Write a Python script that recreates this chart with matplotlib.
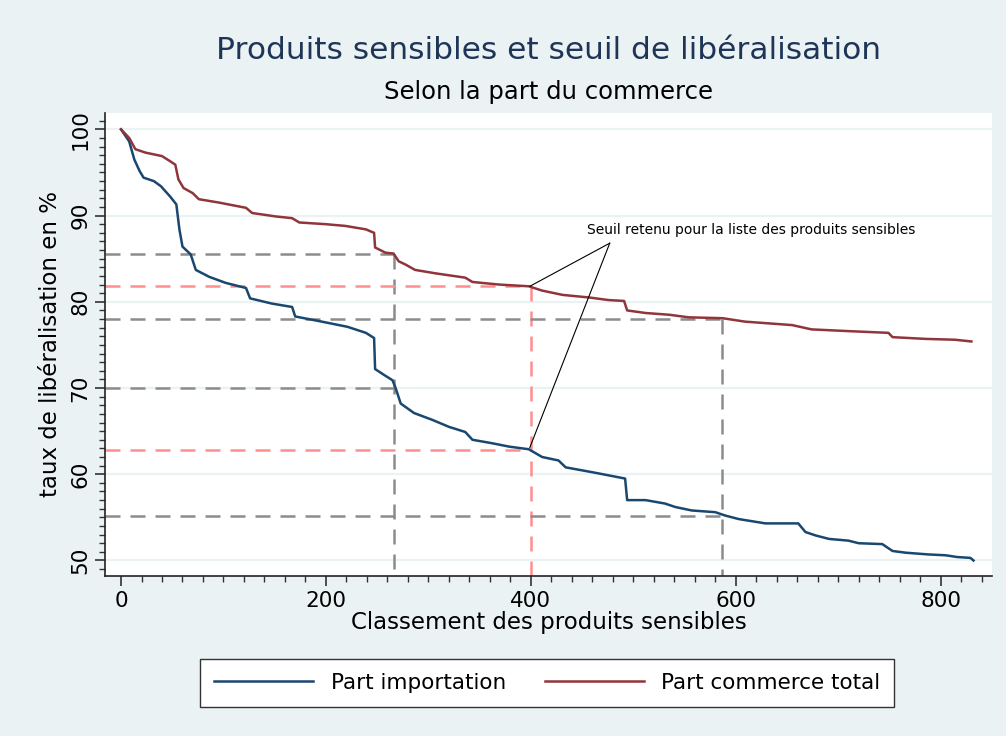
import matplotlib
matplotlib.use("Agg")
import matplotlib.pyplot as plt
from matplotlib.ticker import MultipleLocator

# rang / taux de libéralisation
rank_imp = [0, 8, 13, 18, 22, 32, 39, 48, 54, 57, 60, 68, 73, 86, 102, 122, 126, 147, 167, 170,
            196, 221, 239, 247, 248, 257, 265, 268, 273, 286, 304, 320, 336, 343, 362, 379, 398,
            411, 427, 434, 457, 466, 492, 494, 512, 531, 541, 557, 580, 590, 603, 629, 661, 668,
            678, 691, 710, 720, 743, 753, 766, 788, 805, 816, 829, 832]
val_imp = [100, 98.6, 96.5, 95.2, 94.4, 94.0, 93.4, 92.2, 91.3, 88.4, 86.4, 85.5, 83.7, 82.9, 82.2,
           81.6, 80.4, 79.8, 79.4, 78.3, 77.7, 77.1, 76.4, 75.8, 72.2, 71.5, 70.9, 70.0, 68.2, 67.1,
           66.3, 65.5, 64.9, 64.0, 63.6, 63.2, 62.9, 62.0, 61.6, 60.8, 60.3, 60.1, 59.5, 57.0, 57.0,
           56.6, 56.2, 55.8, 55.6, 55.2, 54.8, 54.3, 54.3, 53.3, 52.9, 52.5, 52.3, 52.0, 51.9, 51.1,
           50.9, 50.7, 50.6, 50.4, 50.3, 50.0]

rank_tot = [0, 8, 14, 24, 40, 48, 53, 56, 61, 70, 76, 96, 122, 128, 151, 167, 174, 200, 219, 239,
            247, 248, 258, 266, 271, 278, 287, 307, 336, 343, 369, 398, 411, 431, 457, 476, 491,
            494, 512, 535, 554, 587, 609, 632, 655, 674, 710, 749, 753, 785, 814, 830]
val_tot = [100, 99.0, 97.7, 97.3, 96.9, 96.3, 95.9, 94.2, 93.2, 92.6, 91.9, 91.5, 90.9, 90.3, 89.9,
           89.7, 89.2, 89.0, 88.8, 88.4, 88.0, 86.3, 85.7, 85.6, 84.7, 84.3, 83.7, 83.3, 82.8, 82.3,
           82.0, 81.8, 81.3, 80.8, 80.5, 80.2, 80.1, 79.0, 78.7, 78.5, 78.2, 78.1, 77.7, 77.5, 77.3,
           76.8, 76.6, 76.4, 75.9, 75.7, 75.6, 75.4]

# seuils
seuil_rank = [266, 400, 587]
seuil_tot = [85.5, 81.8, 78.0]
seuil_imp = [70.0, 62.8, 55.1]
seuil_col = ["#8c8c8c", "#ff8f8f", "#8c8c8c"]

bg = "#eaf2f3"
blue = "#1a476f"
red = "#90353b"

fig = plt.figure(figsize=(10.06, 7.36), dpi=100, facecolor=bg)
ax = fig.add_axes([0.1044, 0.2174, 0.8816, 0.6291])
ax.set_facecolor("white")

xmin, xmax = -15.6, 850
ymin, ymax = 48.2, 101.9

for y in range(50, 101, 10):
    ax.axhline(y, color=bg, lw=1.6, zorder=0)

for r, yt, yi, c in zip(seuil_rank, seuil_tot, seuil_imp, seuil_col):
    kw = dict(color=c, lw=1.8, dashes=(6, 4), zorder=1)
    ax.plot([xmin, r], [yt, yt], **kw)
    ax.plot([xmin, r], [yi, yi], **kw)
    ax.plot([r, r], [yt, ymin], **kw)

l1, = ax.plot(rank_imp, val_imp, color=blue, lw=1.8, zorder=3, label="Part importation")
l2, = ax.plot(rank_tot, val_tot, color=red, lw=1.8, zorder=3, label="Part commerce total")

# annotation
ax.text(455, 88.3, "Seuil retenu pour la liste des produits sensibles", fontsize=10,
        ha="left", va="center", color="black")
ax.plot([477, 399], [86.8, 81.8], color="black", lw=0.8, zorder=4)
ax.plot([477, 399], [86.8, 63.1], color="black", lw=0.8, zorder=4)

ax.set_xlim(xmin, xmax)
ax.set_ylim(ymin, ymax)
ax.xaxis.set_major_locator(MultipleLocator(200))
ax.xaxis.set_minor_locator(MultipleLocator(20))
ax.yaxis.set_major_locator(MultipleLocator(10))
ax.yaxis.set_minor_locator(MultipleLocator(1))
ax.tick_params(which="major", length=7, width=1.2, labelsize=15.5, color="#333333")
ax.tick_params(which="minor", length=4, width=1, color="#333333")
ax.tick_params(axis="y", labelrotation=90)
for lab in ax.get_yticklabels():
    lab.set_va("center")

for s in ["top", "right"]:
    ax.spines[s].set_visible(False)
for s in ["left", "bottom"]:
    ax.spines[s].set_color("#222222")
    ax.spines[s].set_linewidth(1.2)

ax.set_xlabel("Classement des produits sensibles", fontsize=16.5, labelpad=0)
ax.set_ylabel("taux de libéralisation en %", fontsize=16.5, labelpad=6)

fig.text(0.545, 0.932, "Produits sensibles et seuil de libéralisation", fontsize=22.5,
         color="#1f3558", ha="center", va="center")
fig.text(0.545, 0.875, "Selon la part du commerce", fontsize=17.5, color="black",
         ha="center", va="center")

leg = fig.legend(handles=[l1, l2], loc="center", bbox_to_anchor=(0.544, 0.072), ncol=2,
                 fontsize=15.5, frameon=True, fancybox=False, edgecolor="#333333",
                 facecolor="white", framealpha=1, handlelength=4.6, columnspacing=1.8,
                 borderpad=0.65)
leg.get_frame().set_linewidth(1.0)
for h in leg.legend_handles:
    h.set_linewidth(1.8)

fig.savefig("out.png", dpi=100, facecolor=bg)
